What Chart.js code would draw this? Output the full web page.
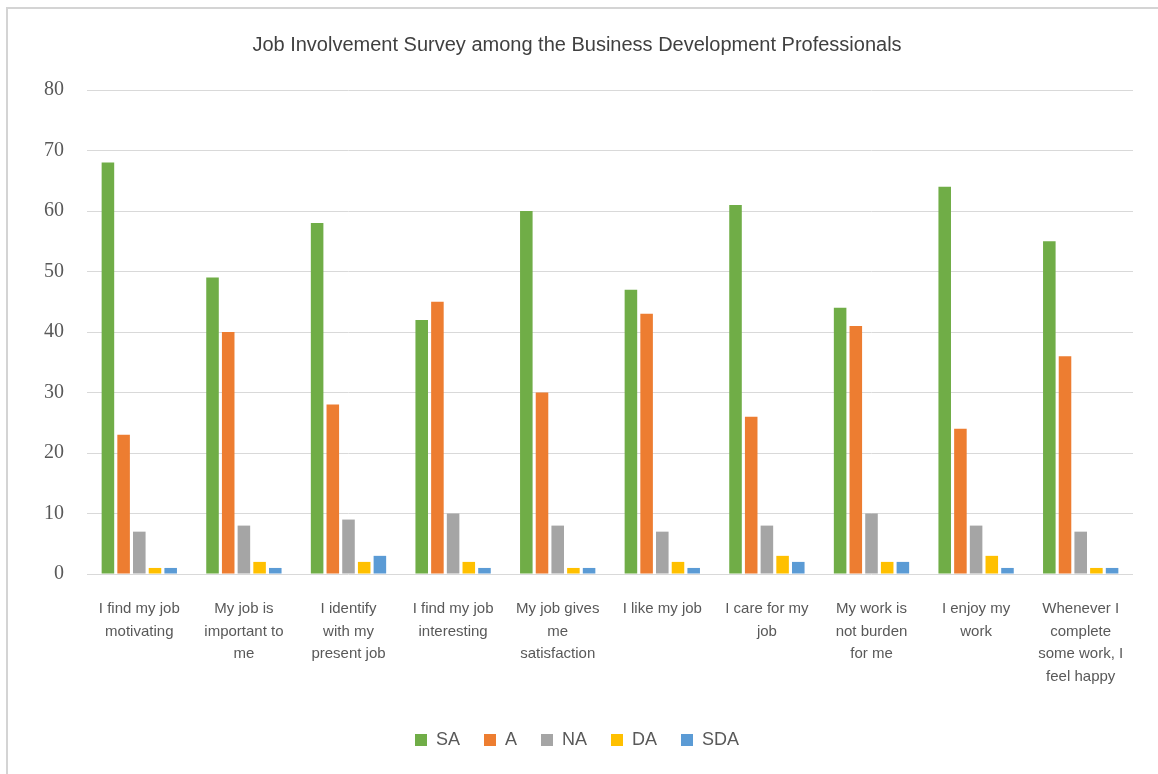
<!DOCTYPE html>
<html>
<head>
<meta charset="utf-8">
<title>Job Involvement Survey</title>
<script src="https://cdn.jsdelivr.net/npm/chart.js@4/dist/chart.umd.min.js"></script>
<style>
  html, body { margin: 0; padding: 0; background: #fff; }
  #wrap { position: relative; width: 1158px; height: 774px; }
  #frame {
    position: absolute; left: 6px; top: 7px; right: 0; bottom: 0;
    border-left: 2px solid #d4d4d4; border-top: 2px solid #d4d4d4;
    pointer-events: none;
  }
</style>
</head>
<body>
<div id="wrap">
  <canvas id="surveyChart" width="1158" height="774"></canvas>
  <div id="frame"></div>
</div>
<script>
// survey statements (wrapped the way they show under the axis)
const statements = [
  ['I find my job', 'motivating'],
  ['My job is', 'important to', 'me'],
  ['I identify', 'with my', 'present job'],
  ['I find my job', 'interesting'],
  ['My job gives', 'me', 'satisfaction'],
  ['I like my job'],
  ['I care for my', 'job'],
  ['My work is', 'not burden', 'for me'],
  ['I enjoy my', 'work'],
  ['Whenever I', 'complete', 'some work, I', 'feel happy'],
];

// responses per answer option
const sa  = [68, 49, 58, 42, 60, 47, 61, 44, 64, 55];
const a   = [23, 40, 28, 45, 30, 43, 26, 41, 24, 36];
const na  = [7, 8, 9, 10, 8, 7, 8, 10, 8, 7];
const da  = [1, 2, 2, 2, 1, 2, 3, 2, 3, 1];
const sda = [1, 1, 3, 1, 1, 1, 2, 2, 1, 1];

const yTicks = [0, 10, 20, 30, 40, 50, 60, 70, 80];

const sans = '"Liberation Sans", Arial, sans-serif';

function series(label, data, color) {
    return {
        label: label,
        data: data,
        backgroundColor: color,
        borderWidth: 0,
        categoryPercentage: 0.75,
        barPercentage: 0.8,
    };
}

const ctx = document.getElementById('surveyChart').getContext('2d');
new Chart(ctx, {
    type: 'bar',
    data: {
        labels: statements,
        datasets: [
            series('SA', sa, '#70ad47'),
            series('A', a, '#ed7d31'),
            series('NA', na, '#a5a5a5'),
            series('DA', da, '#ffc000'),
            series('SDA', sda, '#5b9bd5'),
        ],
    },
    options: {
        responsive: false,
        animation: false,
        layout: { padding: { left: 21, right: 25, top: 33, bottom: 15 } },
        plugins: {
            title: {
                display: true,
                text: 'Job Involvement Survey among the Business Development Professionals',
                color: '#404040',
                font: { family: sans, size: 20, weight: 'normal' },
                padding: { top: 0, bottom: 33 },
            },
            legend: {
                position: 'bottom',
                labels: {
                    color: '#595959',
                    boxWidth: 12,
                    boxHeight: 12,
                    padding: 24,
                    font: { family: sans, size: 18 },
                },
            },
            tooltip: { enabled: false },
        },
        scales: {
            x: {
                grid: { display: false },
                border: { display: false },
                afterFit: (axis) => { axis.height += 3; },
                ticks: {
                    color: '#595959',
                    maxRotation: 0,
                    autoSkip: false,
                    padding: 16,
                    font: { family: sans, size: 15, lineHeight: 1.5 },
                },
            },
            y: {
                min: 0,
                max: 80,
                afterBuildTicks: (axis) => { axis.ticks = yTicks.map(v => ({ value: v })); },
                grid: { color: '#d9d9d9', lineWidth: 1, drawTicks: false },
                border: { display: false },
                ticks: {
                    color: '#595959',
                    padding: 23,
                    font: { family: '"Liberation Serif", "DejaVu Serif", serif', size: 20 },
                },
            },
        },
    },
});
</script>
</body>
</html>
